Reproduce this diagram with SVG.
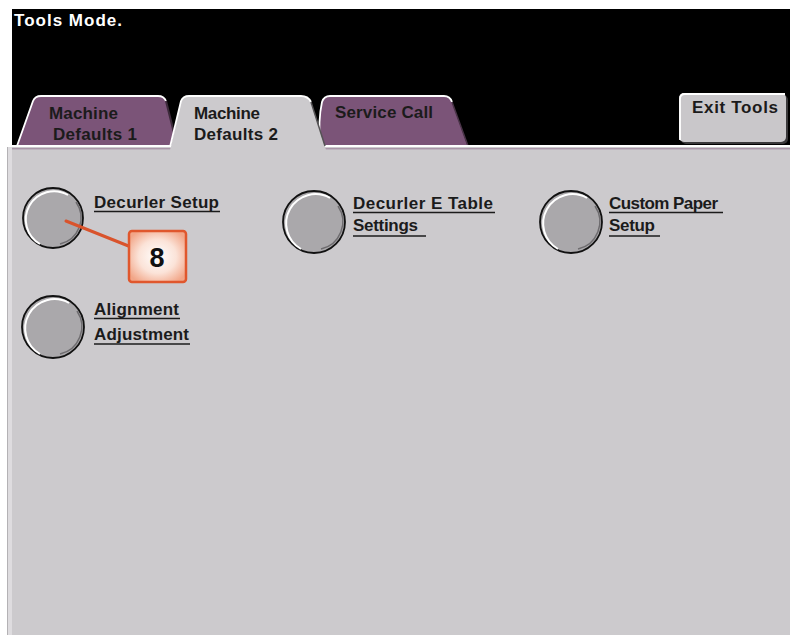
<svg xmlns="http://www.w3.org/2000/svg" width="790" height="635" viewBox="0 0 790 635">
<defs>
<style>
.t{font-family:"Liberation Sans",Arial,sans-serif;font-weight:bold;font-size:17px;fill:#1b1b1b}
.w{fill:#ffffff}
.ul{stroke:#1b1b1b;stroke-width:1.6}
.btn{fill:#aaa8ab;stroke:#111;stroke-width:1.8}
.hl{fill:none;stroke:#ffffff;stroke-width:2}
.sh{fill:none;stroke:#6e6c6f;stroke-width:1.5}
</style>
<radialGradient id="cg" cx="0.5" cy="0.5" r="0.6">
<stop offset="0" stop-color="#ffffff"/>
<stop offset="0.55" stop-color="#fbe3d8"/>
<stop offset="1" stop-color="#f2a688"/>
</radialGradient>
</defs>
<rect x="0" y="0" width="790" height="635" fill="#ffffff"/>
<rect x="12" y="9" width="778" height="140" fill="#000000"/>
<rect x="7" y="147" width="783" height="488" fill="#cccacd"/>
<rect x="7" y="147" width="5" height="488" fill="#dedcdf"/>
<line x1="7.5" y1="147" x2="7.5" y2="635" stroke="#b4b2b5" stroke-width="1"/>
<text class="t w" x="14" y="26" textLength="108" lengthAdjust="spacing">Tools Mode.</text>

<g id="tab1">
<path d="M17,146 L33,101 Q35,96 41,96 L158,96 Q164,96 166,101 L178,146 Z" fill="#7b5478"/>
<path d="M17,146 L33,101 Q35,96 41,96 L158,96 Q164,96 166,101" fill="none" stroke="#ffffff" stroke-width="1.8"/>
<path d="M166,101 L177,145" fill="none" stroke="#3c2a3a" stroke-width="2"/>
<text class="t" x="49" y="119" textLength="69" lengthAdjust="spacing">Machine</text>
<text class="t" x="53" y="140" textLength="84" lengthAdjust="spacing">Defaults  1</text>
</g>

<g id="tab3">
<path d="M320,147 Q318,120 322,102 Q324,96 330,96 L444,96 Q450,96 452,102 L468,147 Z" fill="#7b5478"/>
<path d="M320,147 Q318,120 322,102 Q324,96 330,96 L444,96 Q450,96 452,102" fill="none" stroke="#ffffff" stroke-width="1.8"/>
<path d="M452,102 L468,146" fill="none" stroke="#4a3448" stroke-width="1.5"/>
<text class="t" x="335" y="118" textLength="98" lengthAdjust="spacing">Service  Call</text>
</g>

<line x1="12" y1="146" x2="790" y2="146" stroke="#ffffff" stroke-width="1.8"/>
<line x1="12" y1="148.8" x2="790" y2="148.8" stroke="#9c7f99" stroke-width="1"/>

<g id="tab2">
<path d="M170,150 L181,101 Q183,96 189,96 L301,96 Q308,96 311,102 L326,150 Z" fill="#cccacd"/>
<path d="M170,147 L181,101 Q183,96 189,96 L301,96 Q308,96 311,102" fill="none" stroke="#ffffff" stroke-width="1.8"/>
<path d="M311,102 L325,146" fill="none" stroke="#555355" stroke-width="1.5"/>
<text class="t" x="194" y="119" textLength="66" lengthAdjust="spacing">Machine</text>
<text class="t" x="194" y="140" textLength="84" lengthAdjust="spacing">Defaults  2</text>
</g>

<g id="exit-tools">
<rect x="681" y="95" width="107" height="49" rx="5" fill="#3a393b"/>
<rect x="679" y="93" width="107" height="49" rx="5" fill="#c9c7ca"/>
<path d="M680,140 L680,99 Q680,94 685,94 L785,94" fill="none" stroke="#ffffff" stroke-width="1.8"/>
<text class="t" x="692" y="113" textLength="86" lengthAdjust="spacing">Exit  Tools</text>
</g>

<g id="decurler-setup">
<circle class="btn" cx="53" cy="218" r="30"/>
<path class="hl" d="M40,244 A27,27 0 0 1 68,195"/>
<path class="sh" d="M76,202 A27,27 0 0 1 60,244"/>
<text class="t" x="94" y="208" textLength="125" lengthAdjust="spacing">Decurler  Setup</text>
<line class="ul" x1="94" y1="211.5" x2="220" y2="211.5"/>
</g>

<g id="decurler-e-table">
<circle class="btn" cx="314" cy="222" r="31"/>
<path class="hl" d="M301,249 A28,28 0 0 1 330,198"/>
<path class="sh" d="M338,206 A28,28 0 0 1 321,249"/>
<text class="t" x="353" y="209" textLength="140" lengthAdjust="spacing">Decurler  E  Table</text>
<line class="ul" x1="353" y1="212.5" x2="495" y2="212.5"/>
<text class="t" x="353" y="231" textLength="65" lengthAdjust="spacing">Settings</text>
<line class="ul" x1="353" y1="236" x2="426" y2="236"/>
</g>

<g id="custom-paper">
<circle class="btn" cx="571" cy="222" r="31"/>
<path class="hl" d="M558,249 A28,28 0 0 1 587,198"/>
<path class="sh" d="M595,206 A28,28 0 0 1 578,249"/>
<text class="t" x="609" y="209" textLength="109" lengthAdjust="spacing">Custom Paper</text>
<line class="ul" x1="609" y1="212.5" x2="723" y2="212.5"/>
<text class="t" x="609" y="231" textLength="46" lengthAdjust="spacing">Setup</text>
<line class="ul" x1="609" y1="236" x2="660" y2="236"/>
</g>

<g id="alignment">
<circle class="btn" cx="53" cy="327" r="31"/>
<path class="hl" d="M40,354 A28,28 0 0 1 69,303"/>
<path class="sh" d="M77,311 A28,28 0 0 1 60,354"/>
<text class="t" x="94" y="315" textLength="85" lengthAdjust="spacing">Alignment</text>
<line class="ul" x1="94" y1="318.5" x2="180" y2="318.5"/>
<text class="t" x="94" y="340" textLength="95" lengthAdjust="spacing">Adjustment</text>
<line class="ul" x1="94" y1="344" x2="190" y2="344"/>
</g>

<g id="connectors">
<line x1="66" y1="221" x2="131" y2="247" stroke="#d9532c" stroke-width="3" stroke-linecap="round"/>
</g>

<g id="callout-8">
<rect x="129" y="231" width="57" height="51" rx="3" fill="url(#cg)" stroke="#e0572d" stroke-width="2.5"/>
<text x="157" y="267" text-anchor="middle" font-family="Liberation Sans,Arial,sans-serif" font-weight="bold" font-size="27" fill="#111">8</text>
</g>
</svg>
